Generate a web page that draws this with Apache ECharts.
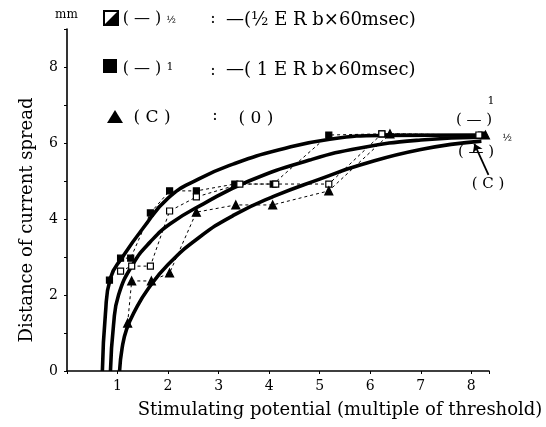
<!DOCTYPE html>
<html>
<head>
<meta charset="utf-8">
<script src="https://cdn.jsdelivr.net/npm/echarts@6/dist/echarts.min.js"></script>
<style>
  html, body { margin: 0; padding: 0; background: #fff; }
</style>
</head>
<body>
<div id="container" style="width: 546px; height: 427px;"></div>
<script>
// measured points, (-)1 : filled squares
var fullX = [0.84, 1.06, 1.26, 1.65, 2.03, 2.56, 3.32, 4.08, 5.18, 6.23, 8.20];
var fullY = [2.39, 2.97, 2.97, 4.16, 4.74, 4.74, 4.92, 4.92, 6.21, 6.24, 6.21];
// (-)1/2 : open squares
var halfX = [1.06, 1.28, 1.65, 2.03, 2.56, 3.42, 4.13, 5.18, 6.23, 8.15];
var halfY = [2.63, 2.76, 2.76, 4.21, 4.58, 4.92, 4.92, 4.92, 6.24, 6.21];
// (C) : triangles
var ctrlX = [1.20, 1.28, 1.67, 2.03, 2.56, 3.34, 4.07, 5.18, 6.39, 8.28];
var ctrlY = [1.26, 2.37, 2.37, 2.58, 4.18, 4.37, 4.37, 4.74, 6.24, 6.21];

// thick hand-drawn curves
var curveFullX = [0.70, 0.76, 0.86, 1.10, 1.50, 2.00, 2.60, 3.30, 4.20, 5.20, 6.30, 8.20];
var curveFullY = [0, 1.5, 2.45, 3.00, 3.75, 4.55, 5.05, 5.45, 5.82, 6.10, 6.20, 6.21];
var curveHalfX = [0.86, 0.92, 1.02, 1.30, 1.65, 2.05, 2.70, 3.60, 4.80, 5.80, 7.00, 8.20];
var curveHalfY = [0, 1.2, 2.00, 2.80, 3.40, 3.88, 4.40, 5.00, 5.55, 5.87, 6.08, 6.15];
var curveCtrlX = [1.04, 1.09, 1.18, 1.35, 1.60, 2.00, 2.60, 3.30, 4.10, 5.00, 5.80, 7.00, 8.20];
var curveCtrlY = [0, 0.6, 1.1, 1.6, 2.15, 2.80, 3.50, 4.10, 4.60, 5.05, 5.42, 5.83, 6.05];

var arrowFrom = [8.34, 5.16];
var arrowTo = [8.06, 5.98];

var xTicks = [1, 2, 3, 4, 5, 6, 7, 8];
var yTicks = [0, 2, 4, 6, 8];

function pairs(xs, ys) {
  var out = [];
  for (var i = 0; i < xs.length; i++) out.push([xs[i], ys[i]]);
  return out;
}

var serif = 'DejaVu Serif';
var chart = echarts.init(document.getElementById('container'));

function dashed(name, xs, ys, symbol, size, fill) {
  return {
    name: name,
    type: 'line',
    data: pairs(xs, ys),
    symbol: symbol,
    symbolSize: size,
    showSymbol: true,
    z: 4,
    lineStyle: { color: '#000', width: 1, type: [3, 3] },
    itemStyle: { color: fill, borderColor: '#000', borderWidth: 1.2 },
    animation: false
  };
}

function thick(xs, ys) {
  return {
    type: 'line',
    data: pairs(xs, ys),
    smooth: 0.5,
    symbol: 'none',
    z: 3,
    lineStyle: { color: '#000', width: 3.6 },
    animation: false
  };
}

function txt(x, y, s, size, align) {
  return {
    type: 'text', x: x, y: y,
    style: { text: s, font: size + 'px "DejaVu Serif"', fill: '#000', align: align || 'center', verticalAlign: 'middle' }
  };
}

var option = {
  animation: false,
  backgroundColor: '#fff',
  grid: { left: 67, top: 29, right: 57, bottom: 56 },
  xAxis: {
    type: 'value',
    min: 0,
    max: 8.35,
    interval: 1,
    splitLine: { show: false },
    axisLine: { lineStyle: { color: '#000', width: 1.6 } },
    axisTick: { length: 3, lineStyle: { color: '#000' } },
    axisLabel: {
      color: '#000',
      fontFamily: serif,
      fontSize: 14,
      margin: 8,
      formatter: function (v) { return xTicks.indexOf(v) >= 0 ? String(v) : ''; }
    }
  },
  yAxis: {
    type: 'value',
    min: 0,
    max: 9,
    interval: 1,
    splitLine: { show: false },
    axisLine: { lineStyle: { color: '#000', width: 1.6 } },
    axisTick: { length: 3, lineStyle: { color: '#000' } },
    axisLabel: {
      color: '#000',
      fontFamily: serif,
      fontSize: 14,
      margin: 9,
      formatter: function (v) { return yTicks.indexOf(v) >= 0 ? String(v) : ''; }
    }
  },
  graphic: [
    { type: 'text', left: 55, top: 9, style: { text: 'mm', font: '12px "DejaVu Serif"', fill: '#000' } },
    { type: 'text', x: 27, y: 220, rotation: Math.PI / 2,
      style: { text: 'Distance of current spread', font: '18px "DejaVu Serif"', fill: '#000', align: 'center', verticalAlign: 'middle' } },
    txt(340, 410, 'Stimulating potential (multiple of threshold)', 18),

    // legend row 1
    { type: 'rect', shape: { x: 104, y: 11, width: 14, height: 14 }, style: { fill: '#fff', stroke: '#000', lineWidth: 2 } },
    { type: 'polygon', shape: { points: [[118, 11], [118, 25], [104, 25]] }, style: { fill: '#000' } },
    txt(142, 19, '( — )', 16),
    txt(171, 20, '½', 10),
    txt(213, 19, ':', 16),
    txt(226, 20, '—(½ E R b×60msec)', 18, 'left'),

    // legend row 2
    { type: 'rect', shape: { x: 103, y: 59, width: 14, height: 14 }, style: { fill: '#000' } },
    txt(142, 69, '( — )', 16),
    txt(170, 67, '1', 11),
    txt(213, 71, ':', 16),
    txt(226, 70, '—( 1 E R b×60msec)', 18, 'left'),

    // legend row 3
    { type: 'polygon', shape: { points: [[115, 110], [123, 123], [107, 123]] }, style: { fill: '#000' } },
    txt(152, 118, '( C )', 17),
    txt(215, 116, ':', 16),
    txt(256, 119, '( 0 )', 17),

    // curve labels on the right
    txt(491, 101, '1', 11),
    txt(474, 120, '( — )', 15),
    txt(507, 138, '½', 10),
    txt(476, 152, '( — )', 15),
    txt(488, 184, '( C )', 15)
  ],
  series: [
    thick(curveFullX, curveFullY),
    thick(curveHalfX, curveHalfY),
    thick(curveCtrlX, curveCtrlY),
    dashed('(−)1', fullX, fullY, 'rect', 6, '#000'),
    dashed('(−)1/2', halfX, halfY, 'rect', 6, '#fff'),
    dashed('(C)', ctrlX, ctrlY, 'triangle', 8, '#000'),
    {
      type: 'lines',
      coordinateSystem: 'cartesian2d',
      symbol: ['none', 'arrow'],
      symbolSize: 8,
      lineStyle: { color: '#000', width: 1.8, opacity: 1 },
      data: [{ coords: [arrowFrom, arrowTo] }],
      z: 5,
      animation: false
    }
  ]
};

chart.setOption(option);
</script>
</body>
</html>
